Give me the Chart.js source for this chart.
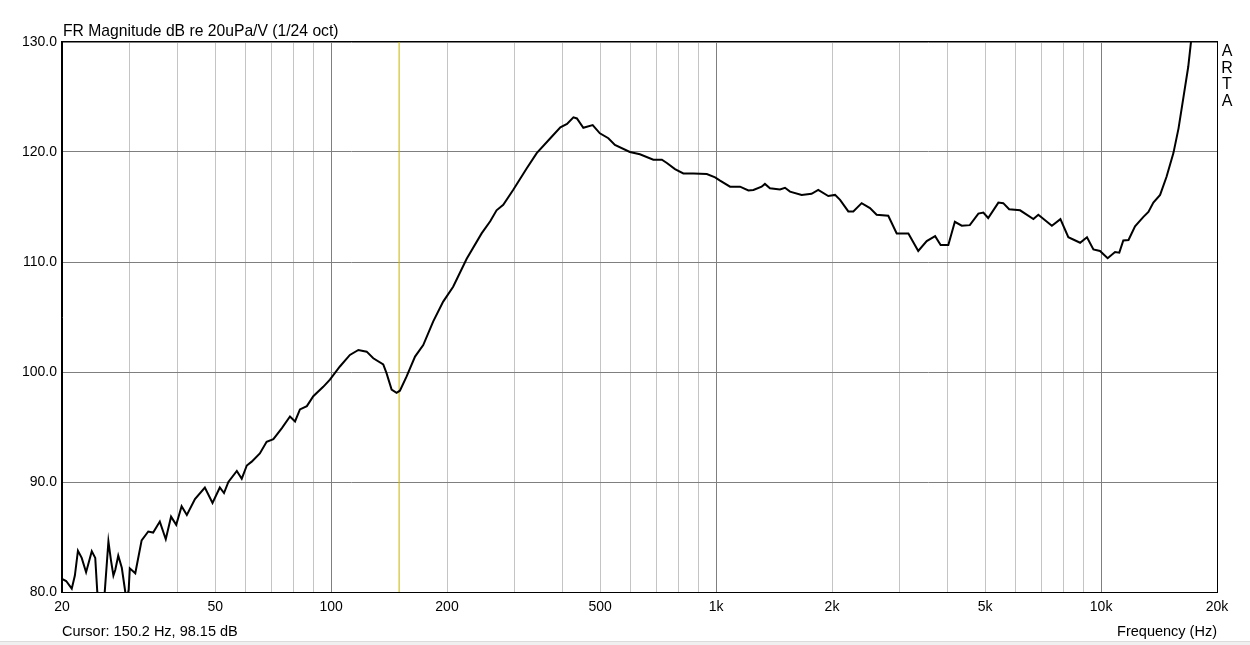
<!DOCTYPE html>
<html>
<head>
<meta charset="utf-8">
<script src="https://cdn.jsdelivr.net/npm/chart.js@4"></script>
<style>
    body { margin: 0; background: #fff; font-family: "Liberation Sans", Arial, sans-serif; }
    #wrap { position: relative; width: 1250px; height: 645px; }
    .lbl { position: absolute; font-size: 14.5px; line-height: 16px; color: #000; white-space: nowrap; }
    #title { left: 63px; top: 23px; font-size: 15.7px; }
    #arta { left: 1221px; top: 43px; width: 12px; font-size: 16px; line-height: 16.5px; text-align: center; }
    #sep { position: absolute; left: 0; top: 641px; width: 1250px; height: 4px; background: #f0f0f0; border-top: 1px solid #dcdcdc; }
</style>
</head>
<body>
<div id="wrap">
    <canvas id="myChart" width="1250" height="645"></canvas>
    <div class="lbl" id="title">FR Magnitude dB re 20uPa/V (1/24 oct)</div>
    <div class="lbl" id="arta">A<br>R<br>T<br>A</div>
    <div class="lbl" style="left:62px; top:623px;">Cursor: 150.2 Hz, 98.15 dB</div>
    <div class="lbl" style="right:33px; top:623px;">Frequency (Hz)</div>
    <div id="sep"></div>
</div>
<script>
// frequency response (Hz, dB)
const freqs = [
    20, 20.5, 21.2, 21.6, 22.0, 22.5, 23.1, 23.9, 24.4, 24.7, 25.1, 25.7, 26.4, 26.8, 27.2, 27.5,
    28.0, 28.6, 29.2, 29.4, 29.8, 30.0, 31.0, 32.2, 33.5, 34.5, 35.9, 37.2, 38.4, 39.6, 40.9, 42.2,
    44.3, 47.0, 49.2, 51.4, 52.7, 54.1, 56.9, 58.6, 60.4, 62.2, 65.3, 68.0, 70.8, 74.5, 78.2, 80.6,
    83.0, 86.5, 89.9, 95.4, 99.3, 105.4, 111.9, 117.7, 123.7, 128.7, 136.6, 139.3, 143.6, 147.9, 150.9, 157.1,
    165.2, 173.5, 184.2, 195.5, 207.5, 225, 246, 259, 269, 280, 297, 322, 342, 371, 394, 410,
    426, 435, 452, 478, 499, 525, 546, 597, 634, 687, 723, 745, 782, 822, 873, 946,
    994, 1024, 1087, 1154, 1213, 1250, 1313, 1339, 1380, 1465, 1510, 1556, 1668, 1770, 1842, 1956,
    2037, 2099, 2205, 2272, 2388, 2510, 2612, 2800, 2945, 3158, 3350, 3524, 3706, 3830, 4010, 4170,
    4345, 4560, 4800, 4945, 5090, 5410, 5570, 5770, 6160, 6670, 6870, 7450, 7840, 8220, 8820, 9190,
    9550, 9935, 10400, 10870, 11150, 11420, 11780, 12250, 12880, 13270, 13670, 14230, 14790, 15410, 15890, 16350,
    16840, 17110, 17420
];
const dbs = [
    81.2, 81.0, 80.3, 81.5, 83.75, 83.1, 81.8, 83.7, 83.1, 80.0, 78.5, 79.0, 84.6, 82.9, 81.5, 82.0,
    83.3, 82.2, 80.0, 79.2, 80.2, 82.15, 81.7, 84.7, 85.5, 85.4, 86.4, 84.8, 86.85, 86.1, 87.8, 87.0,
    88.45, 89.5, 88.1, 89.5, 89.0, 90.0, 91.0, 90.3, 91.5, 91.85, 92.6, 93.65, 93.9, 94.9, 95.95, 95.5,
    96.6, 96.9, 97.8, 98.65, 99.3, 100.5, 101.55, 102.0, 101.85, 101.25, 100.7, 99.9, 98.4, 98.1, 98.3, 99.6,
    101.4, 102.45, 104.6, 106.4, 107.75, 110.3, 112.6, 113.7, 114.7, 115.2, 116.55, 118.5, 119.9, 121.25, 122.25, 122.55,
    123.15, 123.05, 122.2, 122.45, 121.7, 121.25, 120.65, 120.0, 119.8, 119.3, 119.3, 119.0, 118.45, 118.05, 118.05, 118.0,
    117.7, 117.4, 116.85, 116.85, 116.5, 116.55, 116.85, 117.1, 116.7, 116.6, 116.75, 116.4, 116.1, 116.2, 116.55, 116.0,
    116.1, 115.65, 114.6, 114.6, 115.35, 114.9, 114.3, 114.2, 112.6, 112.6, 111.0, 111.9, 112.35, 111.55, 111.55, 113.65,
    113.3, 113.35, 114.4, 114.5, 114.0, 115.4, 115.35, 114.8, 114.7, 113.9, 114.3, 113.3, 113.9, 112.25, 111.75, 112.25,
    111.15, 111.0, 110.35, 110.9, 110.85, 111.95, 112.0, 113.25, 114.1, 114.55, 115.4, 116.1, 117.75, 119.9, 122.15, 124.9,
    127.75, 129.95, 132.5
];

const cursorFreq = 150.2;

const gridFreqs = [
    20, 30, 40, 50, 60, 70, 80, 90,
    100, 200, 300, 400, 500, 600, 700, 800, 900,
    1000, 2000, 3000, 4000, 5000, 6000, 7000, 8000, 9000,
    10000, 20000
];
const decadeFreqs = [100, 1000, 10000];
const xTickLabels = { 20: '20', 50: '50', 100: '100', 200: '200', 500: '500',
    1000: '1k', 2000: '2k', 5000: '5k', 10000: '10k', 20000: '20k' };
const yTicks = [80, 90, 100, 110, 120, 130];

const points = freqs.map((f, i) => ({ x: f, y: dbs[i] }));

// outline round the plot area (top and right sides too)
const frame = {
    id: 'frame',
    afterDraw(chart) {
        const a = chart.chartArea;
        const c = chart.ctx;
        c.save();
        c.strokeStyle = '#000';
        c.lineWidth = 1;
        c.strokeRect(Math.round(a.left) - 0.5, Math.round(a.top) - 0.5, a.right - a.left + 1, a.bottom - a.top + 1);
        c.restore();
    }
};

const ctx = document.getElementById('myChart').getContext('2d');
const myChart = new Chart(ctx, {
    type: 'line',
    data: {
        datasets: [{
            data: points,
            borderColor: '#000',
            borderWidth: 2,
            pointRadius: 0,
            tension: 0
        },
        {
            data: [{ x: cursorFreq, y: 80 }, { x: cursorFreq, y: 130 }],
            borderColor: '#c8b400',
            borderWidth: 1,
            pointRadius: 0
        }]
    },
    options: {
        responsive: false,
        animation: false,
        events: [],
        layout: { padding: { left: 0, right: 33, top: 42, bottom: 23 } },
        plugins: { legend: { display: false }, tooltip: { enabled: false } },
        scales: {
            x: {
                type: 'logarithmic',
                min: 20,
                max: 20000,
                afterBuildTicks: (scale) => { scale.ticks = gridFreqs.map(v => ({ value: v })); },
                afterFit: (scale) => { scale.height = 30; },
                ticks: {
                    autoSkip: false,
                    maxRotation: 0,
                    padding: 7,
                    color: '#000',
                    font: { family: '"Liberation Sans", Arial, sans-serif', size: 14 },
                    callback: (v) => xTickLabels[v] || ''
                },
                grid: {
                    drawTicks: false,
                    color: (c) => decadeFreqs.includes(c.tick && c.tick.value) ? '#7f7f7f' : '#c4c4c4'
                },
                border: { color: '#000' }
            },
            y: {
                min: 80,
                max: 130,
                afterBuildTicks: (scale) => { scale.ticks = yTicks.map(v => ({ value: v })); },
                afterFit: (scale) => { scale.width = 62; },
                ticks: {
                    padding: 5,
                    color: '#000',
                    font: { family: '"Liberation Sans", Arial, sans-serif', size: 14 },
                    callback: (v) => v.toFixed(1)
                },
                grid: { drawTicks: false, color: '#7f7f7f' },
                border: { color: '#000' }
            }
        }
    },
    plugins: [frame]
});
</script>
</body>
</html>
